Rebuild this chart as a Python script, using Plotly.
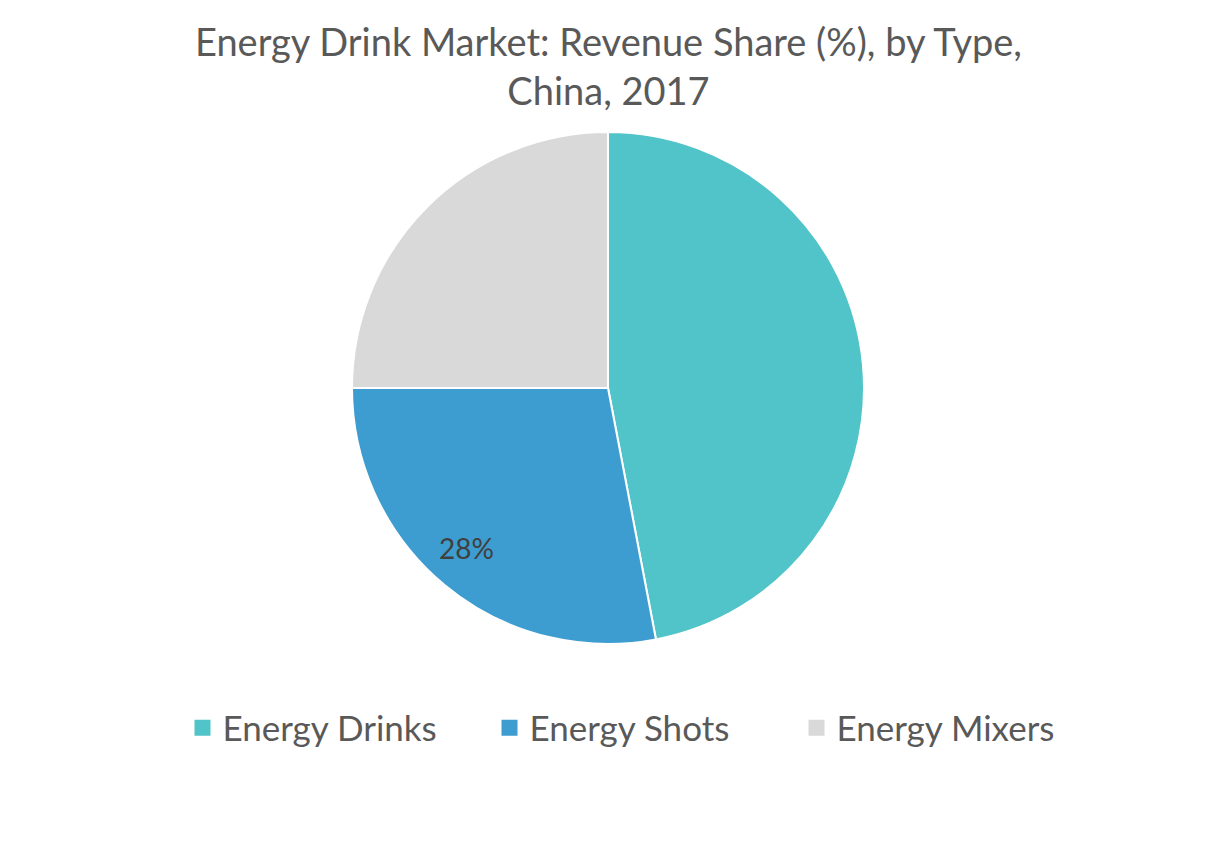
import math
import plotly.graph_objects as go

categories = ["Energy Drinks", "Energy Shots", "Energy Mixers"]
shares = [47, 28, 25]
slice_labels = ["", "28%", ""]
colors = ["#50C4C8", "#3D9DD0", "#D9D9D9"]
title_text = "Energy Drink Market: Revenue Share (%), by Type,<br>China, 2017"

W, H = 1217, 841
cx, cy, r = 608, 388, 256

fig = go.Figure()
fig.add_trace(go.Pie(
    labels=categories,
    values=shares,
    textinfo="none",
    marker=dict(colors=colors, line=dict(color="white", width=2)),
    sort=False,
    direction="clockwise",
    rotation=0,
    showlegend=False,
    domain=dict(x=[(cx - r) / W, (cx + r) / W], y=[(H - cy - r) / H, (H - cy + r) / H]),
))

# legend entries with larger square symbols
for name, col in zip(categories, colors):
    fig.add_trace(go.Scatter(
        x=[None], y=[None], mode="markers", name=name,
        marker=dict(symbol="square", size=18, color=col),
        showlegend=True,
    ))

# slice labels placed from the data (mid-angle of each slice)
total = sum(shares)
start = 0.0
annotations = []
for val, lab in zip(shares, slice_labels):
    mid = start + val / total * 360 / 2
    start += val / total * 360
    if not lab:
        continue
    a = math.radians(mid)
    px = cx + 0.84 * r * math.sin(a) - 4
    py = cy - 0.84 * r * math.cos(a) - 6
    annotations.append(dict(
        text=lab, x=px / W, y=1 - py / H, xref="paper", yref="paper",
        showarrow=False, xanchor="center", yanchor="middle",
        font=dict(family="Lato", size=28, color="#404040"),
    ))

annotations.append(dict(
    text=title_text, x=608 / W, y=1 - 16 / H, xref="paper", yref="paper",
    showarrow=False, xanchor="center", yanchor="top", align="center",
    font=dict(family="Lato", size=38, color="#595959"),
))

fig.update_layout(
    width=W, height=H,
    margin=dict(l=0, r=0, t=0, b=0),
    paper_bgcolor="white",
    plot_bgcolor="white",
    xaxis=dict(visible=False),
    yaxis=dict(visible=False),
    annotations=annotations,
    showlegend=True,
    legend=dict(
        orientation="h",
        x=643 / W, xanchor="center",
        y=(H - 728) / H, yanchor="middle",
        font=dict(family="Lato", size=35, color="#595959"),
        itemsizing="trace",
        entrywidth=262, entrywidthmode="pixels",
    ),
)

fig.write_html("out.html", config={"displayModeBar": False},
               post_script="document.body.style.margin='0px';")
